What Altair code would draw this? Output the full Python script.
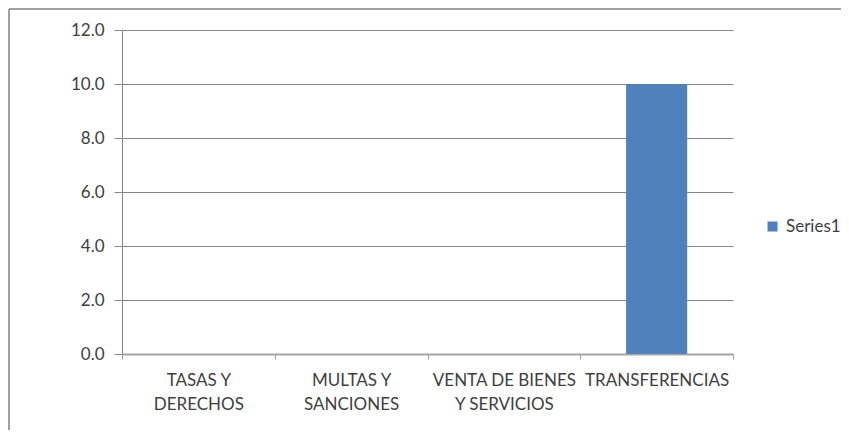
import altair as alt
import pandas as pd

categories = ["TASAS Y\nDERECHOS", "MULTAS Y\nSANCIONES", "VENTA DE BIENES\nY SERVICIOS", "TRANSFERENCIAS"]
values = [0.0, 0.0, 0.0, 10.0]
series = ["Series1", "Series1", "Series1", "Series1"]
y_ticks = [0, 2, 4, 6, 8, 10, 12]

df = pd.DataFrame({"cat": categories, "value": values, "series": series})

FONT = "Lato"
TEXT = "#404040"
W, H = 611, 324

bars = alt.Chart(df).mark_bar(width=alt.RelativeBandSize(0.4)).encode(
    x=alt.X("cat:N", sort=categories,
            scale=alt.Scale(paddingInner=0, paddingOuter=0),
            axis=alt.Axis(title=None, labelAngle=0,
                          labelExpr="split(datum.label, '\\n')",
                          labelFont=FONT, labelFontSize=17, labelColor=TEXT,
                          labelLineHeight=24, labelPadding=13,
                          tickBand="extent", tickSize=5, tickColor="#a0a0a0",
                          domainColor="#a6a6a6", domainWidth=2, grid=False)),
    y=alt.Y("value:Q", scale=alt.Scale(domain=[0, 12], nice=False),
            axis=alt.Axis(title=None, values=y_ticks, format=".1f",
                          labelFont=FONT, labelFontSize=17, labelColor=TEXT,
                          labelPadding=10, tickSize=8, tickColor="#868686",
                          domainColor="#868686", grid=True, gridColor="#868686")),
    color=alt.Color("series:N", scale=alt.Scale(range=["#4f81bd"]),
                    legend=alt.Legend(title=None, orient="none", legendX=642, legendY=188,
                                      symbolType="square", symbolSize=100, symbolStrokeWidth=0,
                                      labelFont=FONT, labelFontSize=17, labelColor=TEXT,
                                      labelOffset=5, labelLimit=200)),
)

frame_df = pd.DataFrame({"k": [0]})
top_line = alt.Chart(frame_df).mark_rule(color="#a0a0a0", strokeWidth=2).encode(
    x=alt.value(-113), x2=alt.value(800), y=alt.value(-21))
left_line = alt.Chart(frame_df).mark_rule(color="#a0a0a0", strokeWidth=2).encode(
    x=alt.value(-113), y=alt.value(-21), y2=alt.value(500))

chart = alt.layer(bars, top_line, left_line).properties(
    width=W, height=H,
    autosize=alt.AutoSizeParams(type="none"),
    padding={"left": 114, "top": 22, "right": 108, "bottom": 76},
    background="white",
).configure_view(stroke=None)

chart.save("out.html", embed_options={"renderer": "svg", "actions": False})
